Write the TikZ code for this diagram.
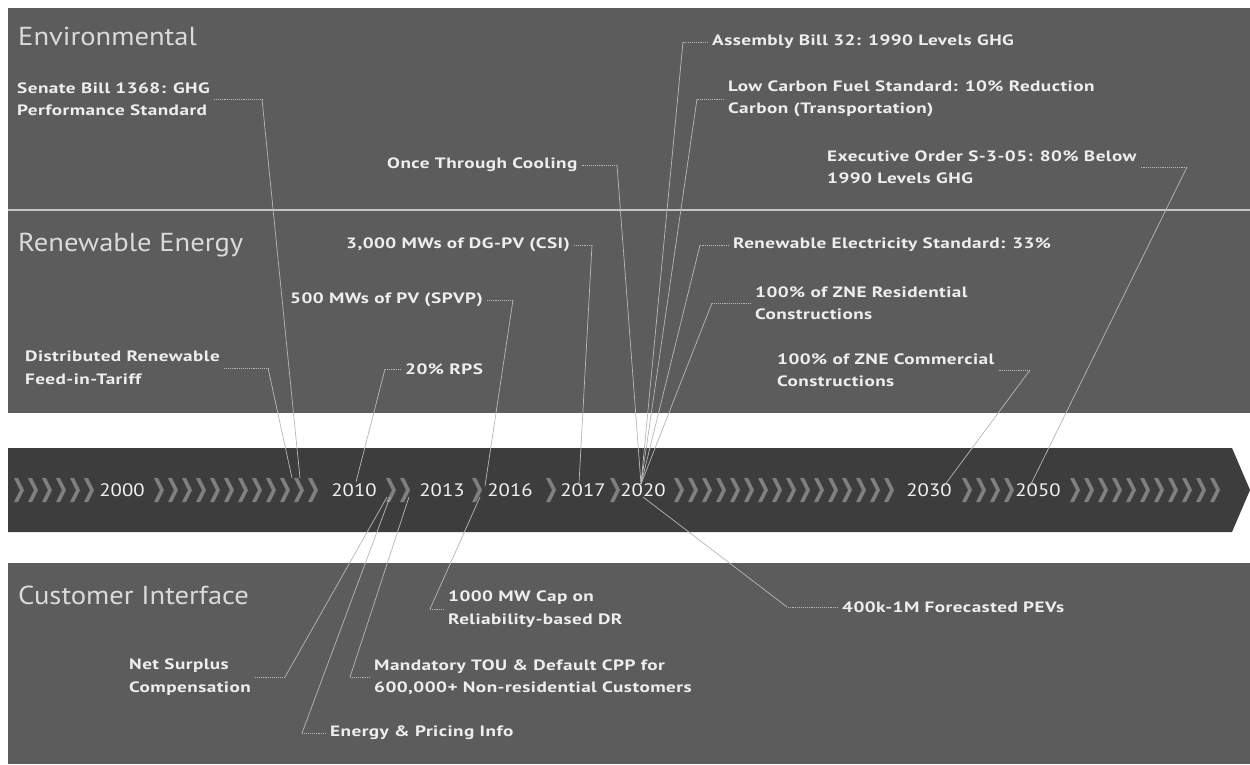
\documentclass[tikz,border=0pt]{standalone}
\usepackage{fontspec}
\setmainfont{PT Sans}
\newfontfamily\labfont{PT Sans}[FakeStretch=1.28,LetterSpace=3]
\newfontfamily\headfont{PT Sans}[FakeStretch=1.1]
\newfontfamily\yrfont{PT Sans}[FakeStretch=1.15]
\definecolor{panelc}{HTML}{5C5C5C}
\definecolor{bandc}{HTML}{3D3D3D}
\definecolor{headc}{HTML}{DADADA}
\definecolor{labc}{HTML}{EEEEEE}
\definecolor{linec}{HTML}{B8B8B8}
\definecolor{divc}{HTML}{C4C4C4}
\definecolor{chevc}{HTML}{808080}
\definecolor{yrc}{HTML}{F2F2F2}
\newcommand\chev[1]{\fill[chevc] (#1,478) -- ++(4,0) -- ++(6,12) -- ++(-6,12) -- ++(-4,0) -- ++(6,-12) -- cycle;}
\begin{document}
\begin{tikzpicture}[x=1pt,y=-1pt,
  head/.style={anchor=west,inner sep=0pt,text=headc,font=\headfont\fontsize{26}{28}\selectfont},
  lab/.style={anchor=west,inner sep=0pt,text=labc,align=left,font=\labfont\bfseries\fontsize{15}{22.5}\selectfont},
  lead/.style={draw=linec,line width=0.9pt,densely dotted},
  conn/.style={draw=linec,line width=0.7pt},
  yr/.style={text=yrc,inner sep=0pt,font=\yrfont\fontsize{18}{20}\selectfont}
]
\fill[white] (0,0) rectangle (1250,764);
\useasboundingbox (0,0) rectangle (1250,764);
% panels
\fill[panelc] (8,8) rectangle (1250,413);
\fill[panelc] (8,563) rectangle (1250,764);
\draw[divc,line width=1.2pt] (8,210) -- (1250,210);
% timeline band
\fill[bandc] (8,448) -- (1232,448) -- (1250,490) -- (1232,532) -- (8,532) -- cycle;
\foreach \x in {14,28,...,84} {\chev{\x}}
\foreach \x in {154,168,...,320} {\chev{\x}}
\foreach \x in {386,400} {\chev{\x}}
\foreach \x in {472,546,610} {\chev{\x}}
\foreach \x in {674,688,...,890} {\chev{\x}}
\foreach \x in {962,976,...,1004} {\chev{\x}}
\foreach \x in {1070,1084,...,1220} {\chev{\x}}
% years
\node[yr] (y2000) at (122,490) {2000};
\node[yr] (y2010) at (354,490) {2010};
\node[yr] (y2013) at (442,490) {2013};
\node[yr] (y2016) at (510,490) {2016};
\node[yr] (y2017) at (583,490) {2017};
\node[yr] (y2020) at (643,490) {2020};
\node[yr] (y2030) at (929,490) {2030};
\node[yr] (y2050) at (1038,490) {2050};
% band attachment points
\coordinate (pSen) at (300,478);
\coordinate (pFit) at (292,478);
\coordinate (pRps) at (356,482);
\coordinate (pSpvp) at (485,486);
\coordinate (pCsi) at (579,483);
\coordinate (pTop) at (641,484);
\coordinate (pZcom) at (944,486);
\coordinate (pEo) at (1030,486);
\coordinate (pPev) at (643,497);
\coordinate (pDr) at (480,497);
\coordinate (pNsc) at (387,497);
\coordinate (pEpi) at (390,497);
\coordinate (pTou) at (409,497);
% headings
\node[head] (henv) at (18,36) {Environmental};
\node[head] (hren) at (18,245) {Renewable Energy};
\node[head] (hcus) at (18,595) {Customer Interface};
% labels
\node[lab] (sen) at (17,99) {Senate Bill 1368: GHG\\Performance Standard};
\node[lab] (otc) at (387,165) {Once Through Cooling};
\node[lab] (ab) at (712,42) {Assembly Bill 32: 1990 Levels GHG};
\node[lab] (lcfs) at (728,99) {Low Carbon Fuel Standard: 10\% Reduction\\Carbon (Transportation)};
\node[lab] (eo) at (827,167) {Executive Order S-3-05: 80\% Below\\1990 Levels GHG};
\node[lab] (csi) at (346,245) {3,000 MWs of DG-PV (CSI)};
\node[lab] (spvp) at (290,300) {500 MWs of PV (SPVP)};
\node[lab] (fit) at (25,368) {Distributed Renewable\\Feed-in-Tariff};
\node[lab] (rps) at (405,369) {20\% RPS};
\node[lab] (res) at (733,245) {Renewable Electricity Standard: 33\%};
\node[lab] (zres) at (755,303) {100\% of ZNE Residential\\Constructions};
\node[lab] (zcom) at (777,370) {100\% of ZNE Commercial\\Constructions};
\node[lab] (pev) at (842,607) {400k-1M Forecasted PEVs};
\node[lab] (dr) at (448,609) {1000 MW Cap on\\Reliability-based DR};
\node[lab] (nsc) at (129,677) {Net Surplus\\Compensation};
\node[lab] (tou) at (374,677) {Mandatory TOU \& Default CPP for\\600,000+ Non-residential Customers};
\node[lab] (epi) at (330,733) {Energy \& Pricing Info};
% elbows
\coordinate (eSen) at (262,99);
\coordinate (eOtc) at (617,165);
\coordinate (eAb) at (683,42);
\coordinate (eLcfs) at (697,99);
\coordinate (eEo) at (1187,167);
\coordinate (eCsi) at (592,245);
\coordinate (eSpvp) at (513,300);
\coordinate (eFit) at (268,368);
\coordinate (eRps) at (385,369);
\coordinate (eRes) at (700,245);
\coordinate (eZres) at (712,303);
\coordinate (eZcom) at (1030,370);
\coordinate (ePev) at (787,607);
\coordinate (eDr) at (430,609);
\coordinate (eNsc) at (285,677);
\coordinate (eTou) at (350,677);
\coordinate (eEpi) at (302,733);
% connectors
\draw[lead] ([xshift=4pt]sen.east) -- (eSen); \draw[conn] (eSen) -- (pSen);
\draw[lead] ([xshift=4pt]otc.east) -- (eOtc); \draw[conn] (eOtc) -- (pTop);
\draw[lead] ([xshift=-4pt]ab.west) -- (eAb); \draw[conn] (eAb) -- (pTop);
\draw[lead] ([xshift=-4pt]lcfs.west) -- (eLcfs); \draw[conn] (eLcfs) -- (pTop);
\draw[lead] ([xshift=4pt]eo.east) -- (eEo); \draw[conn] (eEo) -- (pEo);
\draw[lead] ([xshift=4pt]csi.east) -- (eCsi); \draw[conn] (eCsi) -- (pCsi);
\draw[lead] ([xshift=4pt]spvp.east) -- (eSpvp); \draw[conn] (eSpvp) -- (pSpvp);
\draw[lead] ([xshift=4pt]fit.east) -- (eFit); \draw[conn] (eFit) -- (pFit);
\draw[lead] ([xshift=-4pt]rps.west) -- (eRps); \draw[conn] (eRps) -- (pRps);
\draw[lead] ([xshift=-4pt]res.west) -- (eRes); \draw[conn] (eRes) -- (pTop);
\draw[lead] ([xshift=-4pt]zres.west) -- (eZres); \draw[conn] (eZres) -- (pTop);
\draw[lead] ([xshift=4pt]zcom.east) -- (eZcom); \draw[conn] (eZcom) -- (pZcom);
\draw[lead] ([xshift=-4pt]pev.west) -- (ePev); \draw[conn] (ePev) -- (pPev);
\draw[lead] ([xshift=-4pt]dr.west) -- (eDr); \draw[conn] (eDr) -- (pDr);
\draw[lead] ([xshift=4pt]nsc.east) -- (eNsc); \draw[conn] (eNsc) -- (pNsc);
\draw[lead] ([xshift=-4pt]tou.west) -- (eTou); \draw[conn] (eTou) -- (pTou);
\draw[lead] ([xshift=-4pt]epi.west) -- (eEpi); \draw[conn] (eEpi) -- (pEpi);
\end{tikzpicture}
\end{document}
